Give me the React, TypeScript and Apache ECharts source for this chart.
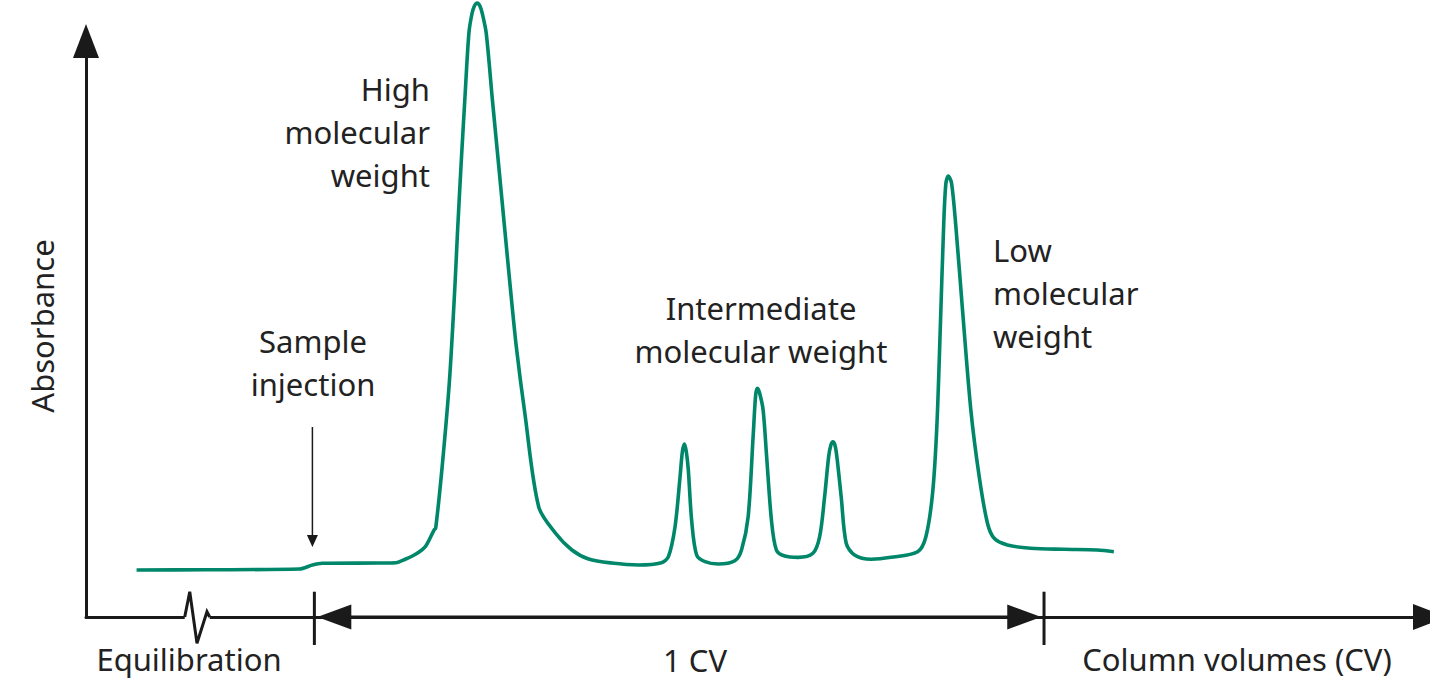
import React, { useEffect, useRef } from "react";
import * as echarts from "echarts";

// Elution volume in column volumes (CV) and absorbance (arbitrary units)
const elutionCV = [
  -0.2437, -0.1503, -0.0205, -0.0027, 0.0109, 0.0888, 0.1117, 0.1253, 0.1343, 0.1435, 0.1527, 0.164,
  0.1663, 0.1756, 0.1852, 0.1927, 0.1961, 0.2009, 0.2064, 0.2118, 0.2159, 0.2193, 0.2232, 0.2269,
  0.2303, 0.2355, 0.244, 0.2528, 0.261, 0.2686, 0.2768, 0.2884, 0.3075, 0.3303, 0.353, 0.3758,
  0.4073, 0.4442,
  0.4756, 0.4852, 0.4943, 0.5012, 0.5043, 0.5071, 0.5098, 0.5125, 0.517, 0.5239, 0.5354, 0.5535,
  0.5763, 0.5854, 0.5945, 0.6013, 0.6048, 0.6072, 0.6102, 0.615, 0.6195, 0.6264, 0.6332, 0.6447,
  0.6628, 0.6833, 0.6925, 0.6993, 0.7048, 0.7079, 0.7107, 0.7134, 0.7161, 0.722, 0.7289, 0.7403,
  0.763, 0.7903, 0.8268, 0.8381, 0.8473, 0.8531, 0.8579, 0.8624, 0.8655, 0.8688, 0.8733, 0.8792,
  0.8883, 0.8997, 0.9112, 0.9225, 0.9317, 0.9498, 0.9817, 1.0273, 1.0729, 1.0957,
];
const absorbance = [
  8.16, 8.2, 8.33, 9.03, 9.32, 9.37, 9.43, 10.07, 10.59, 11.28, 12.33, 15.1,
  15.45, 26.74, 41.15, 57.64, 66.67, 78.13, 90.28, 101.39, 104.69, 106.08, 106.6, 106.08,
  104.69, 101.39, 89.76, 78.13, 67.19, 57.12, 46.88, 35.42, 19.1, 14.58, 11.63, 10.07,
  9.37, 9.03,
  9.43, 10.47, 15.68, 24.36, 28.65, 30.03, 28.65, 25.52, 16.84, 10.76, 9.6, 9.2,
  9.77, 11.63, 17.41, 31.3, 38.54, 39.7, 38.89, 35.94, 28.47, 16.84, 11.63, 10.59,
  10.36, 11.06, 13.94, 20.89, 27.83, 29.86, 30.43, 29.86, 27.83, 20.89, 12.8, 10.76,
  10.02, 10.36, 11.34, 13.94, 21.53, 33.04, 50.4, 67.76, 75.3, 76.56, 75.3, 67.76,
  53.3, 35.94, 24.36, 16.27, 13.66, 12.5, 11.93, 11.75, 11.63, 11.34,
];

// Axis break ("equilibration" time not to scale)
const breakX = [-0.1777, -0.1708, -0.1609, -0.1472, -0.1435];
const breakY = [0, 4.39, -4.57, 0.92, 0];

// 1 CV span markers
const cvTicks = [0, 1];
const cvTickRange = [-4.86, 4.39];
const cvArrowX = [0.0273, 0.9729];

// Sample injection arrow
const injectionX = -0.0027;
const injectionY = [32.99, 13.2];

const peakLabels = [
  "High\nmolecular\nweight",
  "Sample\ninjection",
  "Intermediate\nmolecular weight",
  "Low\nmolecular\nweight",
];
const axisLabels = ["Absorbance", "Equilibration", "1 CV", "Column volumes (CV)"];

const GREEN = "#00876a";
const INK = "#1a1a1a";
const TEXT = "#222222";
const FONT = '31px "Noto Sans", sans-serif';

export default function App() {
  const ref = useRef<HTMLDivElement>(null);

  useEffect(() => {
    document.body.style.margin = "0";
    if (!ref.current) return;
    const chart = echarts.init(ref.current, undefined, { renderer: "svg" });

    const txt = (text: string, x: number, y: number, align: string, extra: any = {}) => ({
      type: "text",
      x,
      y,
      silent: true,
      ...extra,
      style: {
        text,
        x: 0,
        y: 0,
        font: FONT,
        fill: TEXT,
        lineHeight: 43,
        align,
        verticalAlign: "middle",
        textAlign: align,
        textVerticalAlign: "middle",
      },
    });

    const base = {
      type: "line",
      silent: true,
      clip: false,
      animation: false,
      emphasis: { disabled: true },
    };

    chart.setOption({
      animation: false,
      grid: { left: 86, top: 41, width: 1348, height: 576 },
      xAxis: {
        type: "value",
        min: -0.313,
        max: 1.529,
        axisLine: {
          show: true,
          onZero: false,
          symbol: ["none", "triangle"],
          symbolSize: [26, 34],
          lineStyle: { color: INK, width: 3 },
        },
        axisTick: { show: false },
        axisLabel: { show: false },
        splitLine: { show: false },
      },
      yAxis: {
        type: "value",
        min: 0,
        max: 100,
        axisLine: {
          show: true,
          onZero: false,
          symbol: ["none", "triangle"],
          symbolSize: [26, 34],
          lineStyle: { color: INK, width: 3 },
        },
        axisTick: { show: false },
        axisLabel: { show: false },
        splitLine: { show: false },
      },
      series: [
        {
          ...base,
          name: "Absorbance",
          data: elutionCV.map((x, i) => [x, absorbance[i]]),
          smooth: 0.3,
          symbol: "none",
          lineStyle: { color: GREEN, width: 3.6 },
          z: 5,
        },
        {
          ...base,
          data: [
            [breakX[0], 0],
            [breakX[breakX.length - 1], 0],
          ],
          symbol: "none",
          lineStyle: { color: "#ffffff", width: 6 },
          z: 3,
        },
        {
          ...base,
          data: breakX.map((x, i) => [x, breakY[i]]),
          symbol: "none",
          lineStyle: { color: INK, width: 3, join: "miter" },
          z: 4,
        },
        ...cvTicks.map((t) => ({
          ...base,
          data: cvTickRange.map((y) => [t, y]),
          symbol: "none",
          lineStyle: { color: INK, width: 3 },
          z: 4,
        })),
        {
          ...base,
          data: [
            { value: [cvArrowX[0], 0], symbol: "triangle", symbolRotate: 90, symbolSize: [25, 34] },
            { value: [cvArrowX[1], 0], symbol: "triangle", symbolRotate: -90, symbolSize: [25, 34] },
          ],
          symbol: "triangle",
          showSymbol: true,
          itemStyle: { color: INK, borderWidth: 0 },
          lineStyle: { color: INK, width: 3 },
          z: 4,
        },
        {
          ...base,
          data: [
            { value: [injectionX, injectionY[0]], symbol: "none" },
            { value: [injectionX, injectionY[1]], symbol: "triangle", symbolRotate: 180, symbolSize: [11, 12] },
          ],
          symbol: "triangle",
          showSymbol: true,
          itemStyle: { color: INK, borderWidth: 0 },
          lineStyle: { color: INK, width: 1.5 },
          z: 4,
        },
      ],
      graphic: [
        txt(peakLabels[0], 430, 131.5, "right"),
        txt(peakLabels[1], 313, 362.5, "center"),
        txt(peakLabels[2], 761, 329.5, "center"),
        txt(peakLabels[3], 993, 293, "left"),
        txt(axisLabels[0], 42, 326, "center", { rotation: Math.PI / 2 }),
        txt(axisLabels[1], 189, 659, "center"),
        txt(axisLabels[2], 695, 660, "center"),
        txt(axisLabels[3], 1237, 659, "center"),
      ],
    });

    return () => chart.dispose();
  }, []);

  return <div ref={ref} style={{ width: 1430, height: 681 }} />;
}
